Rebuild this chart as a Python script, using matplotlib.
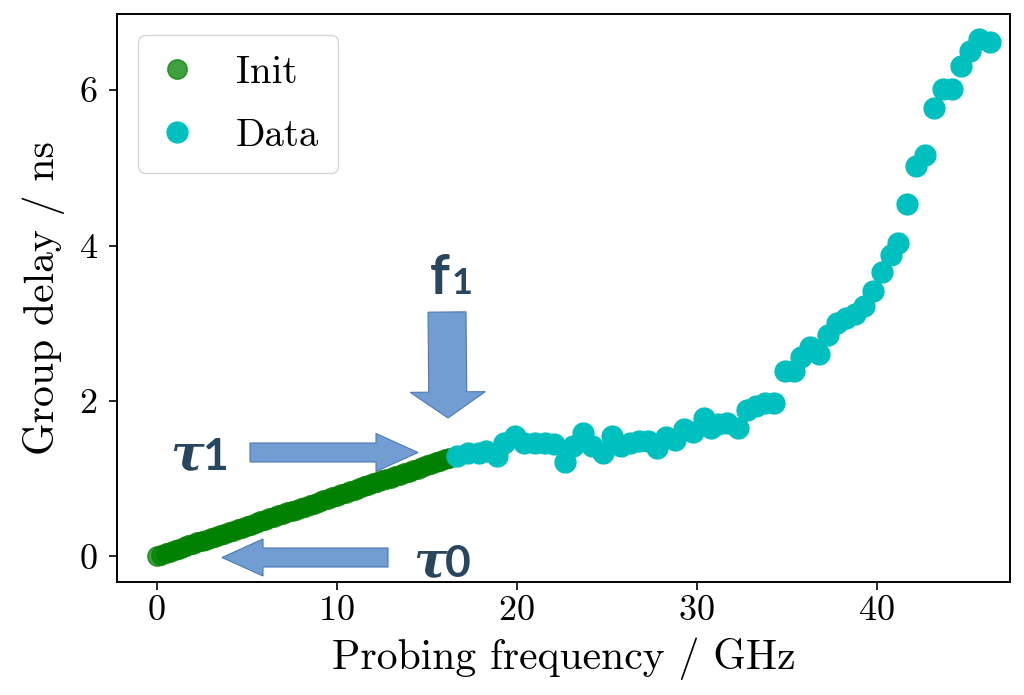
import numpy as np
import matplotlib
matplotlib.use('Agg')
import matplotlib.pyplot as plt
from matplotlib.patches import Polygon

# Données
f_init = [0.0, 0.25, 0.5, 0.75, 1.0, 1.25, 1.5, 1.75, 2.0, 2.25, 2.5, 2.75, 3.0, 3.25, 3.5,
          3.75, 4.0, 4.25, 4.5, 4.75, 5.0, 5.25, 5.5, 5.75, 6.0, 6.25, 6.5, 6.75, 7.0, 7.25,
          7.5, 7.75, 8.0, 8.25, 8.5, 8.75, 9.0, 9.25, 9.5, 9.75, 10.0, 10.25, 10.5, 10.75,
          11.0, 11.25, 11.5, 11.75, 12.0, 12.25, 12.5, 12.75, 13.0, 13.25, 13.5, 13.75,
          14.0, 14.25, 14.5, 14.75, 15.0, 15.25, 15.5, 15.75, 16.0, 16.25]
tau_init = [0.00, 0.02, 0.04, 0.06, 0.08, 0.10, 0.12, 0.14, 0.16, 0.18, 0.20, 0.21, 0.23,
            0.25, 0.27, 0.29, 0.31, 0.33, 0.35, 0.37, 0.39, 0.41, 0.43, 0.45, 0.47, 0.49,
            0.51, 0.53, 0.55, 0.57, 0.59, 0.60, 0.62, 0.64, 0.66, 0.68, 0.70, 0.72, 0.74,
            0.76, 0.78, 0.80, 0.82, 0.84, 0.86, 0.88, 0.90, 0.92, 0.94, 0.96, 0.98, 0.99,
            1.01, 1.03, 1.05, 1.07, 1.09, 1.11, 1.13, 1.15, 1.17, 1.19, 1.21, 1.23, 1.25,
            1.27]

f_data = [16.7, 17.3, 17.9, 18.3, 18.9, 19.3, 19.9, 20.4, 21.0, 21.6, 22.1, 22.7, 23.1,
          23.7, 24.2, 24.8, 25.3, 25.8, 26.3, 26.8, 27.3, 27.8, 28.3, 28.8, 29.3, 29.8,
          30.4, 30.8, 31.2, 31.7, 32.3, 32.8, 33.3, 33.8, 34.3, 34.9, 35.4, 35.8, 36.3,
          36.8, 37.3, 37.8, 38.3, 38.8, 39.3, 39.8, 40.3, 40.8, 41.2, 41.7, 42.2, 42.7,
          43.2, 43.7, 44.2, 44.7, 45.2, 45.7, 46.3]
tau_data = [1.29, 1.33, 1.33, 1.35, 1.29, 1.46, 1.55, 1.46, 1.46, 1.46, 1.44, 1.22, 1.42,
            1.59, 1.42, 1.33, 1.55, 1.42, 1.46, 1.48, 1.48, 1.40, 1.53, 1.50, 1.64, 1.60,
            1.78, 1.65, 1.70, 1.72, 1.65, 1.89, 1.93, 1.97, 1.98, 2.39, 2.39, 2.57, 2.70,
            2.60, 2.85, 3.00, 3.07, 3.12, 3.22, 3.42, 3.66, 3.88, 4.03, 4.54, 5.03, 5.17,
            5.77, 6.01, 6.01, 6.31, 6.51, 6.66, 6.62]

W, H = 1024, 695

plt.rcParams['font.family'] = 'serif'
plt.rcParams['font.serif'] = ['cmr10']
plt.rcParams['mathtext.fontset'] = 'cm'
plt.rcParams['axes.formatter.use_mathtext'] = True

fig = plt.figure(figsize=(W / 100, H / 100), dpi=100)
ax = fig.add_axes([117 / W, 1 - 582 / H, 893 / W, 568 / H])

ax.plot(f_init, tau_init, 'o', color='green', alpha=0.75, markersize=14, label='Init')
ax.plot(f_data, tau_data, 'o', color='c', markersize=15, label='Data')

ax.set_xlim(-2.2, 47.4)
ax.set_ylim(-0.33, 6.98)
ax.set_xticks([0, 10, 20, 30, 40])
ax.set_yticks([0, 2, 4, 6])
ax.tick_params(labelsize=26, length=6, width=1.2, direction='out')
ax.tick_params(axis='y', pad=8)
for s in ax.spines.values():
    s.set_linewidth(1.4)
ax.set_xlabel('Probing frequency / GHz', fontsize=30, labelpad=8)
ax.set_ylabel('Group delay / ns', fontsize=30, labelpad=10)

ax.legend(loc='upper left', fontsize=28, handlelength=1.0, handletextpad=1.0,
          labelspacing=0.7, borderpad=0.5, borderaxespad=0.55, fancybox=True)


# Flèches (coordonnées en pixels, origine en haut à gauche)
def px(x, y):
    return (x / W, 1 - y / H)


def block_arrow(tail, tip, shaft_w, head_w, head_len):
    t = np.array(tail, float)
    p = np.array(tip, float)
    d = (p - t) / np.linalg.norm(p - t)
    n = np.array([-d[1], d[0]])
    b = p - d * head_len
    pts = [t + n * shaft_w / 2, b + n * shaft_w / 2, b + n * head_w / 2, p,
           b - n * head_w / 2, b - n * shaft_w / 2, t - n * shaft_w / 2]
    poly = Polygon([px(*q) for q in pts], closed=True, transform=fig.transFigure,
                   facecolor='#729dd3', edgecolor='#4a78b8', linewidth=0.8, zorder=5)
    fig.patches.append(poly)


block_arrow((447, 312), (448, 418), 38, 75, 26)
block_arrow((250, 452.5), (418, 452.5), 19, 38, 42)
block_arrow((388, 557.5), (222, 557.5), 19, 37, 41)

col = '#29465f'
fig.text(*px(430, 294), 'f', fontsize=40, family='Lato', weight='bold', color=col)
fig.text(*px(452, 294), '1', fontsize=26, family='Lato', weight='bold', color=col)
fig.text(*px(170, 470), 'τ', fontsize=36, family='DejaVu Serif', style='italic',
         weight='bold', color=col)
fig.text(*px(202, 470), '1', fontsize=32, family='Lato', weight='bold', color=col)
fig.text(*px(413, 577), 'τ', fontsize=36, family='DejaVu Serif', style='italic',
         weight='bold', color=col)
fig.text(*px(445, 577), '0', fontsize=32, family='Lato', weight='bold', color=col)

fig.savefig('out.png', dpi=100)
